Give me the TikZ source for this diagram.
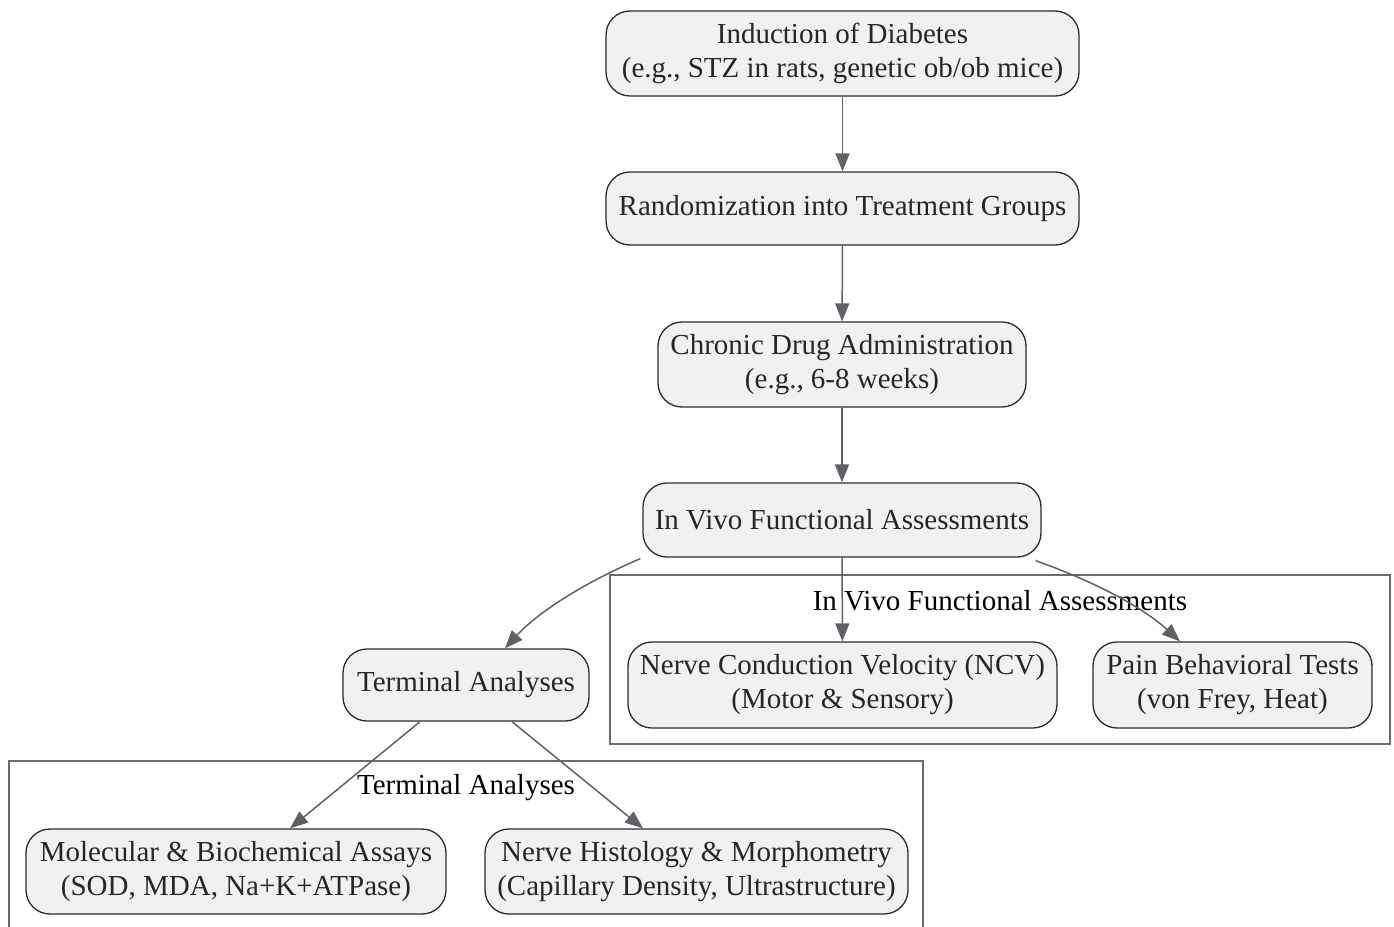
\documentclass[tikz,border=0pt]{standalone}
\usepackage{fontspec}
\setmainfont{Liberation Serif}
\usetikzlibrary{arrows.meta}
\definecolor{nodefill}{HTML}{F1F1F3}
\definecolor{nodeline}{HTML}{2B2B2B}
\definecolor{edgecol}{HTML}{5F6166}
\definecolor{clustcol}{HTML}{6B6B6B}
\tikzset{
  box/.style={draw=nodeline, line width=1.3pt, fill=nodefill, rounded corners=24pt, align=center, font=\fontsize{29}{34}\selectfont, text=black!85, inner sep=0pt},
  edge/.style={draw=edgecol, line width=1.5pt, -{Triangle[length=18pt,width=14pt]}},
  clust/.style={draw=clustcol, line width=1.5pt},
  ctitle/.style={font=\fontsize{29}{34}\selectfont, text=black}
}
\begin{document}
\begin{tikzpicture}[x=1pt,y=-1pt]
\useasboundingbox (0,0) rectangle (1394,926);
% clusters
\draw[clust] (610,575) rectangle (1390,744);
\node[ctitle] (ctA) at (1000,601) {In Vivo Functional Assessments};
\draw[clust] (9,761) rectangle (923,940);
\node[ctitle] (ctB) at (466,788) {Terminal Analyses};
% nodes
\node[box, minimum width=473pt, minimum height=85pt] (n1) at (842.5,53.5) {Induction of Diabetes\\(e.g., STZ in rats, genetic ob/ob mice)};
\node[box, minimum width=473pt, minimum height=73pt] (n2) at (842.5,208.5) {Randomization into Treatment Groups};
\node[box, minimum width=368pt, minimum height=85pt] (n3) at (842,364.5) {Chronic Drug Administration\\(e.g., 6-8 weeks)};
\node[box, minimum width=398pt, minimum height=74pt] (n4) at (842,520) {In Vivo Functional Assessments};
\node[box, minimum width=429pt, minimum height=86pt] (ncv) at (842.5,685) {Nerve Conduction Velocity (NCV)\\(Motor \& Sensory)};
\node[box, minimum width=279pt, minimum height=86pt] (pain) at (1232.5,685) {Pain Behavioral Tests\\(von Frey, Heat)};
\node[box, minimum width=246pt, minimum height=72pt] (term) at (466,685) {Terminal Analyses};
\node[box, minimum width=420pt, minimum height=85pt] (mol) at (236,871.5) {Molecular \& Biochemical Assays\\(SOD, MDA, Na+K+ATPase)};
\node[box, minimum width=423pt, minimum height=85pt] (his) at (696.5,871.5) {Nerve Histology \& Morphometry\\(Capillary Density, Ultrastructure)};
% edges
\draw[edge] (n1) -- (n2);
\draw[edge] (n2) -- (n3);
\draw[edge] (n3) -- (n4);
\draw[edge] (n4) -- (ncv);
\draw[edge] (n4.south east) ++(-6,3) coordinate (pa) (pa) .. controls (1090,580) and (1140,605) .. (pain.north west -| 1180,0);
\draw[edge] (n4.south west) ++(-2,1) coordinate (ta) (ta) .. controls (590,580) and (540,610) .. (term.north east -| 505,0);
\draw[edge] (term.south) ++(-46,0) coordinate (m0) (m0) -- (mol.north -| 290,0);
\draw[edge] (term.south) ++(46,0) coordinate (h0) (h0) -- (his.north -| 643,0);
\end{tikzpicture}
\end{document}
